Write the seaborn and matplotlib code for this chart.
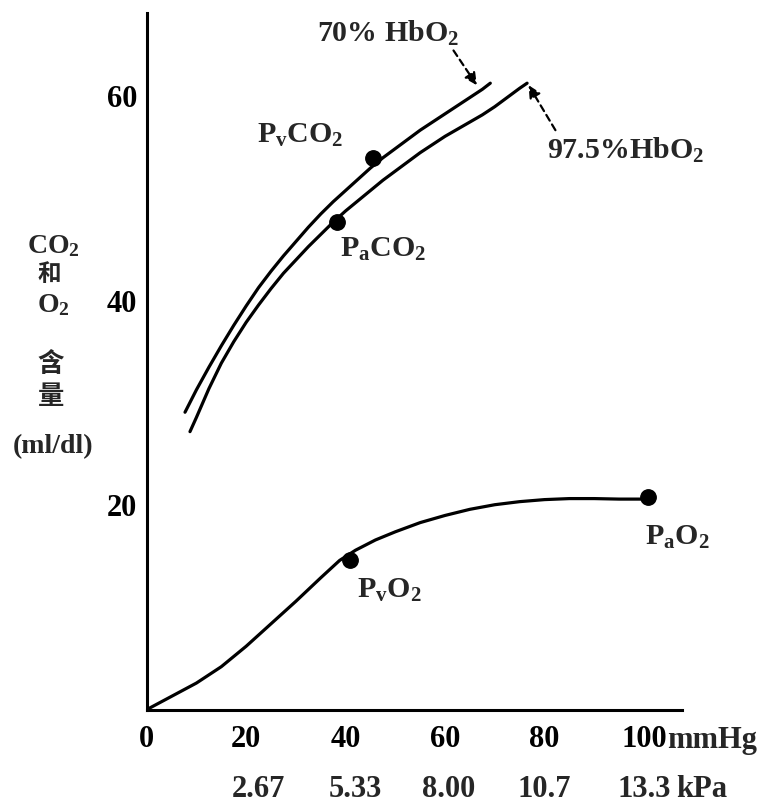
import matplotlib
matplotlib.use("Agg")
import matplotlib.pyplot as plt
import seaborn as sns

# ---- data ----
# venous CO2 dissociation curve (70% HbO2)
co2_ven_x = [7.7, 10, 12.5, 15, 17.5, 20, 22.5, 25, 27.5, 30, 32.5, 35, 37.5, 40,
             42.5, 45, 47.5, 50, 52.5, 55, 57.5, 60, 62.5, 65, 67.5, 69.1]
co2_ven_y = [29.1, 31.3, 33.5, 35.6, 37.6, 39.5, 41.3, 42.9, 44.4, 45.8, 47.2, 48.5,
             49.7, 50.8, 51.9, 53.0, 54.0, 54.9, 55.8, 56.7, 57.5, 58.3, 59.1, 59.9,
             60.7, 61.3]

# arterial CO2 dissociation curve (97.5% HbO2)
co2_art_x = [8.7, 10, 12.5, 15, 17.5, 20, 22.5, 25, 27.5, 30, 32.5, 35, 37.5, 40,
             42.5, 45, 47.5, 50, 52.5, 55, 57.5, 60, 62.5, 65, 67.5, 70, 72.5, 75, 76.5]
co2_art_y = [27.2, 28.6, 31.4, 33.9, 36.0, 37.9, 39.6, 41.2, 42.7, 44.0, 45.3, 46.5,
             47.7, 48.8, 49.8, 50.8, 51.8, 52.7, 53.6, 54.5, 55.3, 56.1, 56.8, 57.5,
             58.2, 59.0, 59.9, 60.8, 61.3]

# O2 dissociation curve
o2_x = [0, 5, 10, 15, 20, 25, 30, 35, 38.8, 42, 46, 50, 55, 60, 65, 70, 75, 80, 85,
        90, 95, 100.4]
o2_y = [0, 1.3, 2.6, 4.2, 6.2, 8.4, 10.6, 12.9, 14.6, 15.6, 16.6, 17.4, 18.3, 19.0,
        19.6, 20.05, 20.35, 20.55, 20.65, 20.65, 20.6, 20.6]

pt_names = ["PvCO2", "PaCO2", "PvO2", "PaO2"]
pt_x = [45.5, 38.2, 40.9, 100.8]
pt_y = [54.0, 47.7, 14.6, 20.8]

mmhg_ticks = [0, 20, 40, 60, 80, 100]
mmhg_labels = ["0", "20", "40", "60", "80", "100"]
kpa_ticks = [20, 40, 60, 80, 100]
kpa_labels = ["2.67", "5.33", "8.00", "10.7", "13.3"]
y_ticks = [20, 40, 60]

# ---- style ----
sns.set_style("white")
plt.rcParams["font.family"] = ["Liberation Serif", "Noto Sans CJK SC", "DejaVu Sans"]
plt.rcParams["font.weight"] = "bold"
plt.rcParams["mathtext.fontset"] = "custom"
plt.rcParams["mathtext.rm"] = "Liberation Serif:bold"
plt.rcParams["mathtext.it"] = "Liberation Serif:bold"
plt.rcParams["mathtext.bf"] = "Liberation Serif:bold"

fig = plt.figure(figsize=(7.69, 8.02), dpi=100)
ax = fig.add_axes([0.1908, 0.1152, 0.6957, 0.869])

lw = 2.3
sns.lineplot(x=co2_ven_x, y=co2_ven_y, ax=ax, color="black", lw=lw)
sns.lineplot(x=co2_art_x, y=co2_art_y, ax=ax, color="black", lw=lw)
sns.lineplot(x=o2_x, y=o2_y, ax=ax, color="black", lw=lw)
sns.scatterplot(x=pt_x, y=pt_y, ax=ax, color="black", s=125, edgecolor="black", zorder=5)

ax.set_xlim(0, 107.6)
ax.set_ylim(0, 68.2)
for s in ["top", "right"]:
    ax.spines[s].set_visible(False)
for s in ["left", "bottom"]:
    ax.spines[s].set_linewidth(2.2)
    ax.spines[s].set_color("black")

ax.set_xticks(mmhg_ticks)
ax.set_xticklabels(mmhg_labels)
ax.set_yticks(y_ticks)
ax.set_yticklabels([str(v) for v in y_ticks])
ax.tick_params(axis="both", direction="in", length=9, width=2, colors="black", labelsize=22)
ax.tick_params(axis="x", pad=11)
ax.tick_params(axis="y", pad=7)
for lab in ax.get_xticklabels() + ax.get_yticklabels():
    lab.set_fontweight("bold")

tr = ax.get_xaxis_transform()
kpa_shift = [2.4, 2.0, 0.8, 0.0, 0.0]   # small rightward offsets as in the print
for xv, dx, lab in zip(kpa_ticks, kpa_shift, kpa_labels):
    ax.text(xv + dx, -0.114, lab, transform=tr, ha="center", va="center",
            fontsize=22, fontweight="bold")
ax.text(104.6, -0.044, "mmHg", transform=tr, ha="left", va="center", fontsize=22, fontweight="bold")
ax.text(106.5, -0.114, "kPa", transform=tr, ha="left", va="center", fontsize=22, fontweight="bold")

# curve labels
fs = 21.5
ax.text(22.2, 56.2, r"P$_\mathrm{v}$CO$_2$", fontsize=fs, ha="left", va="center")
ax.text(38.9, 45.0, r"P$_\mathrm{a}$CO$_2$", fontsize=fs, ha="left", va="center")
ax.text(42.3, 11.7, r"P$_\mathrm{v}$O$_2$", fontsize=fs, ha="left", va="center")
ax.text(100.3, 16.9, r"P$_\mathrm{a}$O$_2$", fontsize=fs, ha="left", va="center")

ax.text(34.3, 66.2, r"70% HbO$_2$", fontsize=fs, ha="left", va="center")
ax.text(80.6, 54.7, r"97.5%HbO$_2$", fontsize=fs, ha="left", va="center")

arrow_kw = dict(arrowstyle="-|>", linestyle=(0, (3, 2)), lw=1.6, color="black",
                mutation_scale=18, shrinkA=0, shrinkB=0)
ax.annotate("", xy=(66.4, 61.1), xytext=(61.7, 64.5), arrowprops=arrow_kw)
ax.annotate("", xy=(76.8, 61.1), xytext=(82.2, 56.7), arrowprops=arrow_kw)

# y-axis label stack
fig.text(0.069, 0.693, r"CO$_2$", fontsize=20, ha="center", va="center")
fig.text(0.064, 0.657, "和", fontsize=17, ha="center", va="center", fontweight="bold")
fig.text(0.069, 0.620, r"O$_2$", fontsize=20, ha="center", va="center")
fig.text(0.066, 0.546, "含", fontsize=19, ha="center", va="center", fontweight="bold")
fig.text(0.066, 0.505, "量", fontsize=19, ha="center", va="center", fontweight="bold")
fig.text(0.069, 0.443, "(ml/dl)", fontsize=20, ha="center", va="center")

fig.savefig("out.png", dpi=100, facecolor="white")
